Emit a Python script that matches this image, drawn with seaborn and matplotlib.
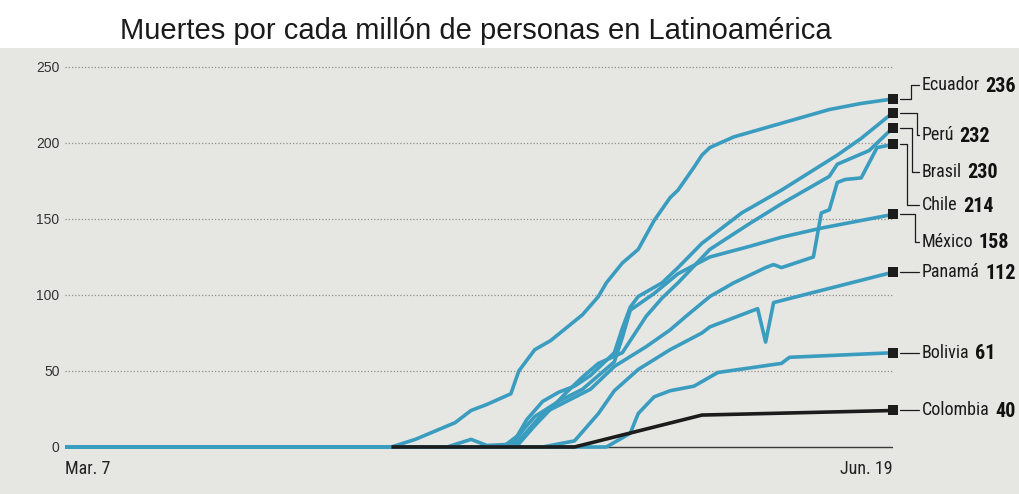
import matplotlib
matplotlib.use("Agg")
import matplotlib.pyplot as plt
import matplotlib.dates as mdates
from matplotlib import font_manager
from matplotlib.font_manager import FontProperties
from matplotlib.patches import Rectangle
import pandas as pd
import seaborn as sns

# ---------------- data ----------------
START = "2020-03-07"
TITLE = "Muertes por cada millón de personas en Latinoamérica"
x_tick_days = [0, 104]
x_tick_labels = ["Mar. 7", "Jun. 19"]
y_ticks = [0, 50, 100, 150, 200, 250]

countries = ["Ecuador", "Perú", "Brasil", "Chile", "México", "Panamá", "Bolivia", "Colombia"]
label_numbers = ["236", "232", "230", "214", "158", "112", "61", "40"]

ecuador_days = [0, 41, 44, 49, 51, 53, 56, 57, 59, 61, 65, 67, 68, 70, 72, 74, 76, 77, 79, 80, 81, 84, 90, 96, 100, 104]
ecuador_vals = [0, 0, 5, 16, 24, 28, 35, 50, 64, 70, 87, 99, 108, 121, 130, 149, 164, 169, 184, 192, 197, 204, 213, 222, 226, 229]

peru_days = [0, 56, 58, 60, 62, 64, 66, 68, 69, 70, 71, 72, 75, 77, 80, 85, 90, 97, 100, 104]
peru_vals = [0, 0, 18, 30, 36, 40, 47, 57, 62, 78, 92, 99, 108, 118, 134, 154, 169, 192, 203, 220]

brasil_days = [0, 48, 51, 53, 57, 59, 61, 63, 65, 67, 70, 73, 75, 77, 81, 86, 90, 96, 97, 101, 104]
brasil_vals = [0, 0, 5, 1, 2, 14, 25, 36, 46, 55, 62, 86, 98, 108, 130, 147, 160, 178, 186, 195, 210]

chile_days = [0, 56, 58, 60, 63, 66, 69, 73, 76, 78, 81, 84, 88, 89, 90, 94, 95, 96, 97, 98, 100, 102, 104]
chile_vals = [0, 0, 10, 22, 30, 38, 53, 66, 77, 86, 99, 108, 118, 120, 118, 125, 154, 156, 174, 176, 177, 197, 199]

mexico_days = [0, 55, 57, 59, 62, 65, 67, 69, 70, 71, 74, 77, 81, 86, 90, 95, 104]
mexico_vals = [0, 0, 8, 20, 30, 38, 47, 56, 72, 90, 101, 114, 125, 132, 138, 144, 153]

panama_days = [0, 60, 64, 67, 69, 72, 76, 80, 81, 87, 88, 89, 95, 104]
panama_vals = [0, 0, 4, 22, 37, 51, 64, 75, 79, 91, 69, 95, 103, 115]

bolivia_days = [0, 68, 71, 72, 74, 76, 79, 82, 90, 91, 104]
bolivia_vals = [0, 0, 9, 22, 33, 37, 40, 49, 55, 59, 62]

colombia_days = [41, 64, 80, 104]
colombia_vals = [0, 0, 21, 24]

series_days = [ecuador_days, peru_days, brasil_days, chile_days, mexico_days,
               panama_days, bolivia_days, colombia_days]
series_vals = [ecuador_vals, peru_vals, brasil_vals, chile_vals, mexico_vals,
               panama_vals, bolivia_vals, colombia_vals]

# ---------------- label layout (not data) ----------------
label_y = [238, 205, 181, 159, 135, 115, 63, 24]
elbow_x = [106.2, 107.0, 106.4, 105.8, 106.8, None, None, None]

BLUE = "#3a9dc0"
BLACK = "#1c1c1c"

start = pd.Timestamp(START)
rows = []
for c, ds, vs in zip(countries, series_days, series_vals):
    for d, v in zip(ds, vs):
        rows.append({"country": c, "date": start + pd.Timedelta(days=d), "value": v})
df = pd.DataFrame(rows)

# ---------------- fonts ----------------
sns.set_theme(style="white")
plt.rcParams["font.family"] = ["Liberation Sans", "DejaVu Sans"]

pref = ["Liberation Sans Narrow", "Roboto Condensed", "Noto Sans", "Open Sans Condensed",
        "Open Sans", "DejaVu Sans Condensed", "Noto Sans Condensed"]


def _w(w):
    if isinstance(w, str):
        return font_manager.weight_dict.get(w, 400)
    return int(w)


def pick(weight):
    best = None
    for f in font_manager.fontManager.ttflist:
        n, st = f.name, str(f.stretch)
        narrow = ("Narrow" in n) or ("Condensed" in n and "Extra" not in n and "Semi" not in n) \
            or st in ("condensed",)
        if not narrow or f.style != "normal":
            continue
        fam_rank = next((i for i, p in enumerate(pref) if n.startswith(p)), len(pref))
        score = fam_rank * 1000 + abs(_w(f.weight) - weight)
        if best is None or score < best[0]:
            best = (score, f.fname)
    return best[1] if best else None


reg_path, bold_path = pick(400), pick(700)
if reg_path and bold_path:
    name_fp = FontProperties(fname=reg_path, size=13)
    num_fp = FontProperties(fname=bold_path, size=14.5)
    tick_fp = FontProperties(fname=reg_path, size=13)
else:
    name_fp = FontProperties(family="Roboto", size=11)
    num_fp = FontProperties(family="Roboto", weight="bold", size=12.5)
    tick_fp = FontProperties(family="Roboto", size=11)

# ---------------- figure ----------------
W, H = 1020, 494
fig = plt.figure(figsize=(W / 100, H / 100), dpi=100, facecolor="white")
fig.patches.append(Rectangle((0, 0), 1, (H - 48) / H, transform=fig.transFigure,
                             facecolor="#e6e6e3", edgecolor="none", zorder=-10))

ax = fig.add_axes([65 / W, 0.0798, 828 / W, 0.80])
ax.set_facecolor("none")

palette = {c: (BLACK if c == "Colombia" else BLUE) for c in countries}
sns.lineplot(data=df, x="date", y="value", hue="country", hue_order=countries,
             palette=palette, linewidth=2.6, legend=False, estimator=None, ax=ax,
             solid_joinstyle="round", solid_capstyle="butt", zorder=3)

last = df.groupby("country", sort=False).tail(1)
sns.scatterplot(data=last, x="date", y="value", marker="s", color=BLACK, s=50,
                linewidth=0, legend=False, ax=ax, zorder=6, clip_on=False)

x0 = mdates.date2num(start)
ax.set_xlim(x0 + x_tick_days[0], x0 + x_tick_days[-1])
ax.set_ylim(-5, 255)

for y in y_ticks[1:]:
    ax.axhline(y, color="#8f8f8f", lw=0.9, ls=(0, (1, 1.6)), zorder=1)
ax.axhline(0, color="#3a3a3a", lw=1.0, zorder=2)

ax.set_yticks(y_ticks)
ax.set_yticklabels([str(v) for v in y_ticks], fontsize=10, color="#333333")
ax.set_xticks([x0 + d for d in x_tick_days])
ax.set_xticklabels(x_tick_labels)
for lab, ha in zip(ax.get_xticklabels(), ["left", "right"]):
    lab.set_ha(ha)
    lab.set_fontproperties(tick_fp)
    lab.set_color("#222222")
ax.tick_params(axis="both", length=0)
ax.tick_params(axis="y", pad=4)
ax.tick_params(axis="x", pad=4)
ax.set_xlabel("")
ax.set_ylabel("")
for s in ax.spines.values():
    s.set_visible(False)

# labels with connectors
end_vals = [vs[-1] for vs in series_vals]
xs, xe, xt = x0 + 104.9, x0 + 107.3, x0 + 107.6
for c, num, ev, ly, ex in zip(countries, label_numbers, end_vals, label_y, elbow_x):
    if ex is None:
        ax.plot([xs, xe], [ev, ev], color=BLACK, lw=0.9, clip_on=False, zorder=5)
        ty = ev
    else:
        ax.plot([xs, x0 + ex, x0 + ex, xe], [ev, ev, ly, ly], color=BLACK, lw=0.9,
                clip_on=False, zorder=5)
        ty = ly
    t = ax.text(xt, ty, c, fontproperties=name_fp, color="#1a1a1a", ha="left",
                va="center", clip_on=False)
    ax.annotate(num, xy=(1, 0.45), xycoords=t, xytext=(4, 0), textcoords="offset points",
                fontproperties=num_fp, color="#111111", ha="left", va="center",
                annotation_clip=False)

fig.text(120 / W, 1 - 31 / H, TITLE, fontsize=21, color="#1a1a1a",
         family=["Liberation Sans", "DejaVu Sans"], ha="left", va="center")

fig.savefig("out.png", dpi=100, facecolor=fig.get_facecolor())
